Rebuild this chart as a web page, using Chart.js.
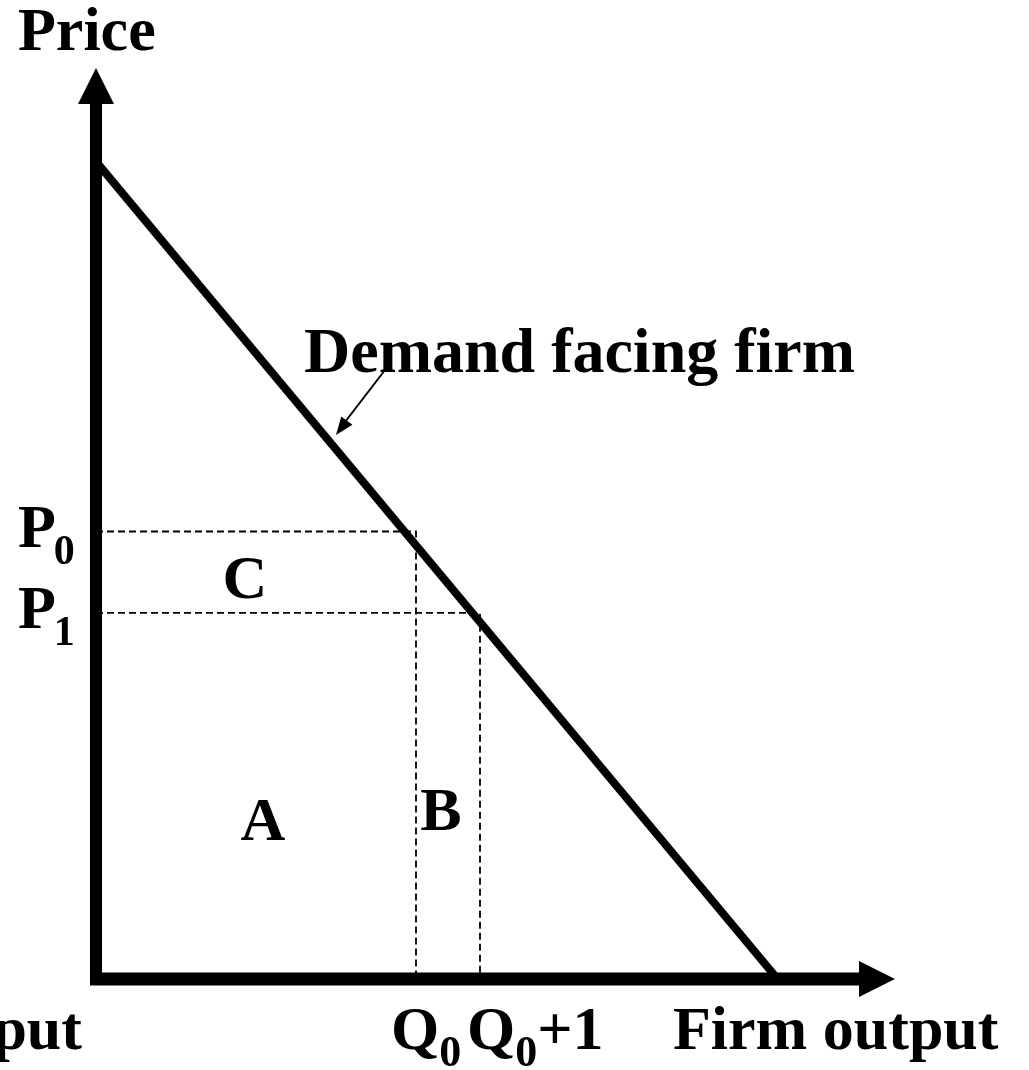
<!DOCTYPE html>
<html>
<head>
<meta charset="utf-8">
<script src="https://cdn.jsdelivr.net/npm/chart.js@4.4.1/dist/chart.umd.min.js"></script>
<style>
    body { margin: 0; background: #fff; }
    #wrap { width: 1029px; height: 1070px; }
</style>
</head>
<body>
<div id="wrap"><canvas id="demand-chart" width="1029" height="1070"></canvas></div>
<script>
// demand curve facing the firm (output, price)
const demandOutput = [0.1, 21.3];
const demandPrice = [20, 0];

// price levels P0, P1 and output levels Q0, Q0+1
const priceLevels = [11, 9];
const priceSubscripts = ['0', '1'];
const outputLevels = [10, 12];
const outputLabels = [['Q', '0', ''], ['Q', '0', '+1']];

const areaLabels = ['C', 'A', 'B'];
const axisTitles = ['Price', 'Firm output'];
const curveLabel = 'Demand facing firm';

const FONT = '"Liberation Serif", "Times New Roman", serif';

function dashedGuide(i) {
    return {
        data: [
            {x: 0, y: priceLevels[i]},
            {x: outputLevels[i], y: priceLevels[i]},
            {x: outputLevels[i], y: 0}
        ],
        showLine: true,
        borderColor: '#000',
        borderWidth: 1.8,
        borderDash: [7, 4],
        pointRadius: 0,
        fill: false
    };
}

function arrowHead(ctx, x, y, angle, len, half) {
    ctx.save();
    ctx.translate(x, y);
    ctx.rotate(angle);
    ctx.beginPath();
    ctx.moveTo(0, 0);
    ctx.lineTo(-len, -half);
    ctx.lineTo(-len, half);
    ctx.closePath();
    ctx.fill();
    ctx.restore();
}

const diagramPlugin = {
    id: 'diagram',
    afterDraw(chart) {
        const ctx = chart.ctx;
        const xs = chart.scales.x;
        const ys = chart.scales.y;
        const x0 = xs.getPixelForValue(0);
        const y0 = ys.getPixelForValue(0);

        ctx.save();
        ctx.fillStyle = '#000';
        ctx.strokeStyle = '#000';

        // axes with arrows
        ctx.lineCap = 'butt';
        ctx.lineWidth = 12;
        ctx.beginPath();
        ctx.moveTo(x0, y0 + 6);
        ctx.lineTo(x0, 100);
        ctx.stroke();
        arrowHead(ctx, x0, 68, -Math.PI / 2, 36, 18);

        ctx.lineWidth = 13;
        ctx.beginPath();
        ctx.moveTo(x0 - 6, y0);
        ctx.lineTo(862, y0);
        ctx.stroke();
        arrowHead(ctx, 895, y0, 0, 36, 18);

        // text
        ctx.textBaseline = 'alphabetic';
        ctx.font = 'bold 62px ' + FONT;
        ctx.textAlign = 'left';
        ctx.fillText(axisTitles[0], 18, 50);
        ctx.fillText(axisTitles[1], 673, 1049);
        ctx.textAlign = 'right';
        ctx.fillText('put', 82, 1049);
        ctx.textAlign = 'left';
        ctx.font = 'bold 64px ' + FONT;
        ctx.fillText(curveLabel, 304, 372);

        // price labels
        priceLevels.forEach((p, i) => {
            const py = ys.getPixelForValue(p);
            ctx.font = 'bold 62px ' + FONT;
            ctx.fillText('P', 18, py + 15);
            const w = ctx.measureText('P').width;
            ctx.font = 'bold 42px ' + FONT;
            ctx.fillText(priceSubscripts[i], 18 + w - 2, py + 32);
        });

        // output labels
        const qOffsets = [-25, -13];
        outputLevels.forEach((q, i) => {
            let lx = xs.getPixelForValue(q) + qOffsets[i];
            const parts = outputLabels[i];
            ctx.font = 'bold 62px ' + FONT;
            ctx.fillText(parts[0], lx, 1049);
            lx += ctx.measureText(parts[0]).width;
            ctx.font = 'bold 44px ' + FONT;
            ctx.fillText(parts[1], lx, 1066);
            lx += ctx.measureText(parts[1]).width;
            ctx.font = 'bold 62px ' + FONT;
            ctx.fillText(parts[2], lx, 1049);
        });

        // area labels
        ctx.font = 'bold 62px ' + FONT;
        ctx.textAlign = 'center';
        ctx.fillText(areaLabels[0], 245, 598);
        ctx.fillText(areaLabels[1], 263, 840);
        ctx.fillText(areaLabels[2], 441, 830);

        // pointer from label to curve
        ctx.lineWidth = 2;
        ctx.beginPath();
        ctx.moveTo(385, 370);
        ctx.lineTo(345, 422);
        ctx.stroke();
        arrowHead(ctx, 336, 435, Math.atan2(435 - 370, 336 - 385), 18, 7);

        ctx.restore();
    }
};

const chartConfig = {
    type: 'scatter',
    data: {
        datasets: [
            {
                data: demandOutput.map((x, i) => ({x: x, y: demandPrice[i]})),
                showLine: true,
                borderColor: '#000',
                borderWidth: 8,
                pointRadius: 0,
                fill: false
            },
            dashedGuide(0),
            dashedGuide(1)
        ]
    },
    options: {
        responsive: false,
        animation: false,
        layout: {
            padding: {left: 96, right: 133, top: 84, bottom: 91}
        },
        scales: {
            x: {type: 'linear', min: 0, max: 25, display: false},
            y: {type: 'linear', min: 0, max: 22, display: false}
        },
        plugins: {
            legend: {display: false},
            tooltip: {enabled: false}
        }
    },
    plugins: [diagramPlugin]
};

new Chart(document.querySelector('#demand-chart'), chartConfig);
</script>
</body>
</html>
